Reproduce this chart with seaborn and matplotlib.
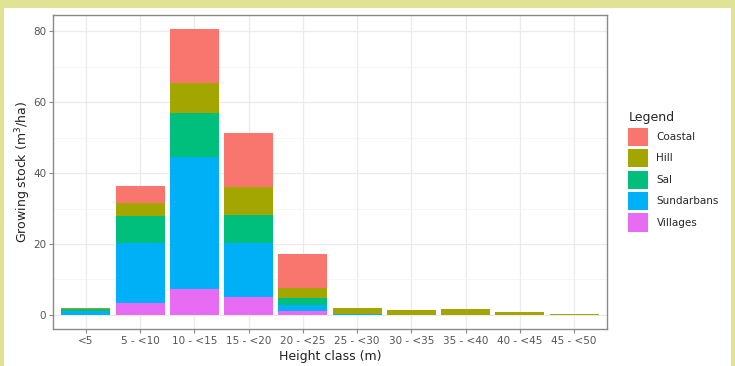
import numpy as np
import pandas as pd
import matplotlib
matplotlib.use("Agg")
import matplotlib.pyplot as plt
from matplotlib.patches import Rectangle, Patch
import seaborn as sns

categories = ["<5", "5 - <10", "10 - <15", "15 - <20", "20 - <25",
              "25 - <30", "30 - <35", "35 - <40", "40 - <45", "45 - <50"]
villages   = [0.1, 3.3, 7.2, 5.2, 1.2, 0.0, 0.0, 0.0, 0.0, 0.0]
sundarbans = [0.9, 17.1, 37.2, 15.0, 1.6, 0.2, 0.0, 0.0, 0.0, 0.0]
sal        = [0.7, 7.5, 12.4, 8.0, 1.9, 0.0, 0.0, 0.0, 0.0, 0.0]
hill       = [0.2, 3.7, 8.5, 7.8, 3.0, 1.9, 1.4, 1.6, 0.9, 0.2]
coastal    = [0.0, 4.7, 15.2, 15.2, 9.4, 0.0, 0.0, 0.0, 0.0, 0.0]

series = ["Coastal", "Hill", "Sal", "Sundarbans", "Villages"]
values = {"Coastal": coastal, "Hill": hill, "Sal": sal,
          "Sundarbans": sundarbans, "Villages": villages}
colors = {"Coastal": "#F8766D", "Hill": "#A3A500", "Sal": "#00BF7D",
          "Sundarbans": "#00B0F6", "Villages": "#E76BF3"}

stack_order = ["Villages", "Sundarbans", "Sal", "Hill", "Coastal"]
cum = {}
running = np.zeros(len(categories))
for s in stack_order:
    running = running + np.array(values[s])
    cum[s] = running.copy()

sns.set_theme(style="white")
plt.rcParams['font.family'] = ['DejaVu Sans']

fig = plt.figure(figsize=(7.35, 3.66), dpi=100)
fig.patch.set_facecolor("#E0E294")
W, H = 735, 366
bg = fig.add_axes([4 / W, 0, (731 - 4) / W, (H - 7.7) / H], zorder=-5)
bg.set_facecolor("white")
bg.set_xticks([]); bg.set_yticks([])
for sp in bg.spines.values():
    sp.set_visible(False)

left, right, top, bottom = 53.3, 606.7, 14.7, 329.3
ax = fig.add_axes([left / W, (H - bottom) / H, (right - left) / W, (bottom - top) / H], zorder=2)
ax.set_facecolor("white")

for s in reversed(stack_order):
    df = pd.DataFrame({"Height class": categories, "cum": cum[s]})
    sns.barplot(data=df, x="Height class", y="cum", order=categories,
                color=colors[s], saturation=1, width=0.9, errorbar=None,
                edgecolor="none", linewidth=0, ax=ax, zorder=3)

ax.set_xlim(-0.6, len(categories) - 0.4)
ax.set_ylim(-4.03, 84.6)
ax.set_yticks([0, 20, 40, 60, 80])
ax.set_yticks([10, 30, 50, 70], minor=True)
ax.grid(True, which="major", color="#EBEBEB", linewidth=0.9, zorder=0)
ax.grid(True, which="minor", axis="y", color="#F2F2F2", linewidth=0.5, zorder=0)
ax.set_axisbelow(True)
for sp in ax.spines.values():
    sp.set_visible(True)
    sp.set_color("#8a8a8a")
    sp.set_linewidth(1.0)
ax.tick_params(axis="both", which="major", length=3, width=0.8, color="#8a8a8a",
               labelsize=7.5, labelcolor="#555555", pad=2, left=True, bottom=True)
ax.tick_params(axis="both", which="minor", length=0)

ax.set_xlabel("Height class (m)", fontsize=9, color="#222222", labelpad=3)
ax.set_ylabel("Growing stock (m$^3$/ha)", fontsize=9, color="#222222", labelpad=0)

handles = [Patch(facecolor=colors[s], edgecolor="none", label=s) for s in series]
leg = fig.legend(handles=handles, title="Legend", loc="upper left",
                 bbox_to_anchor=(620 / W, (H - 103) / H), frameon=False,
                 fontsize=7.5, title_fontsize=9, handlelength=1.9,
                 handleheight=2.3, labelspacing=0.32, handletextpad=0.8,
                 borderpad=0.3)
leg._legend_box.align = "left"

fig.savefig("out.png", dpi=100)
